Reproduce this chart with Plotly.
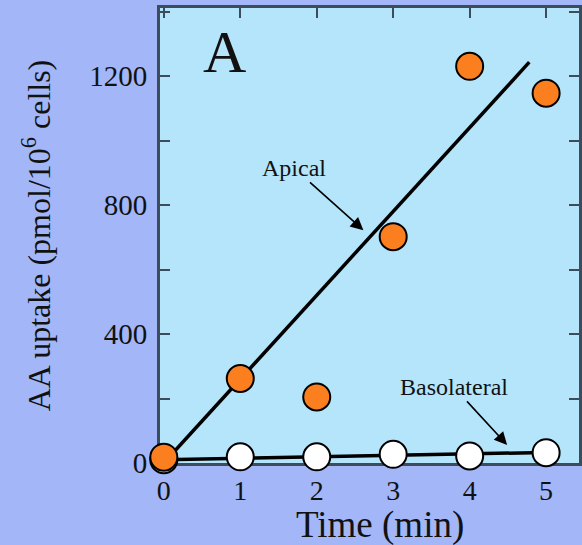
import plotly.graph_objects as go

# Measured uptake of ascorbic acid over time
time_min = [0, 1, 2, 3, 4, 5]
apical_uptake = [18, 262, 205, 702, 1230, 1147]
basolateral_uptake = [10, 19, 19, 27, 22, 32]

# Linear fits drawn through each series
apical_fit_time = [0, 4.78]
apical_fit_uptake = [0, 1243]
basolateral_fit_time = [0, 4.82]
basolateral_fit_uptake = [10, 32]

# Axis ticks (labelled majors; unlabelled minors every 200)
x_tick_vals = [0, 1, 2, 3, 4, 5]
x_tick_text = ["0", "1", "2", "3", "4", "5"]
y_tick_vals = [0, 400, 800, 1200]
y_tick_text = ["0", "400", "800", "1200"]
y_minor_step = 200

SERIF = "Liberation Serif"
OUTER_BG = "#a3b6f8"
PLOT_BG = "#b4e5fb"
AXIS_COLOR = "#3c4c5c"
TEXT = "#111"

fig = go.Figure()

fig.add_trace(go.Scatter(
    x=basolateral_fit_time, y=basolateral_fit_uptake, mode="lines",
    line=dict(color="black", width=3.5), showlegend=False, hoverinfo="skip",
))
fig.add_trace(go.Scatter(
    x=apical_fit_time, y=apical_fit_uptake, mode="lines",
    line=dict(color="black", width=3.5), showlegend=False, hoverinfo="skip",
))
fig.add_trace(go.Scatter(
    x=time_min, y=basolateral_uptake, mode="markers", name="Basolateral",
    marker=dict(size=27, color="white", line=dict(color="black", width=2)),
    showlegend=False, cliponaxis=False,
))
fig.add_trace(go.Scatter(
    x=time_min, y=apical_uptake, mode="markers", name="Apical",
    marker=dict(size=27, color="#fb7f1f", line=dict(color="black", width=2)),
    showlegend=False, cliponaxis=False,
))

# Series labels, each with an arrow pointing at its fit line
fig.add_annotation(x=2.61, y=722, ax=1.70, ay=915, axref="x", ayref="y",
                   text="Apical", showarrow=True, arrowhead=2, arrowsize=1.6,
                   arrowwidth=1.6, arrowcolor="black",
                   font=dict(family=SERIF, size=24, color=TEXT))
fig.add_annotation(x=4.49, y=56, ax=3.79, ay=236, axref="x", ayref="y",
                   text="Basolateral", showarrow=True, arrowhead=2,
                   arrowsize=1.6, arrowwidth=1.6, arrowcolor="black",
                   font=dict(family=SERIF, size=24, color=TEXT))

# Panel letter
fig.add_annotation(x=0.80, y=1274, text="A", showarrow=False,
                   font=dict(family=SERIF, size=60, color=TEXT))

# X axis title
fig.add_annotation(xref="paper", yref="paper", x=0.526, y=-0.137,
                   xanchor="center", yanchor="middle", text="Time (min)",
                   showarrow=False,
                   font=dict(family=SERIF, size=37, color=TEXT))

fig.update_xaxes(
    range=[-0.05, 5.43], tickvals=x_tick_vals, ticktext=x_tick_text,
    ticks="inside", ticklen=10, tickwidth=2, tickcolor=AXIS_COLOR,
    showline=True, linewidth=3, linecolor=AXIS_COLOR, mirror="ticks",
    showgrid=False, zeroline=False, layer="below traces",
    tickfont=dict(family=SERIF, size=28, color=TEXT),
    ticklabelstandoff=0,
)
fig.update_yaxes(
    range=[0, 1411], tickvals=y_tick_vals, ticktext=y_tick_text,
    ticks="inside", ticklen=10, tickwidth=2, tickcolor=AXIS_COLOR,
    minor=dict(dtick=y_minor_step, tick0=0, ticks="inside", ticklen=10,
               tickwidth=2, tickcolor=AXIS_COLOR, showgrid=False),
    showline=True, linewidth=3, linecolor=AXIS_COLOR, mirror="ticks",
    showgrid=False, zeroline=False, layer="below traces",
    tickfont=dict(family=SERIF, size=29, color=TEXT),
    ticklabelstandoff=4,
    title=dict(text="AA uptake (pmol/10<sup>6</sup> cells)",
               font=dict(family=SERIF, size=32, color=TEXT), standoff=30),
)

fig.update_layout(
    width=582, height=545,
    margin=dict(l=160, r=0, t=8, b=82),
    paper_bgcolor=OUTER_BG, plot_bgcolor=PLOT_BG,
    showlegend=False,
)

fig.write_html("out.html")
